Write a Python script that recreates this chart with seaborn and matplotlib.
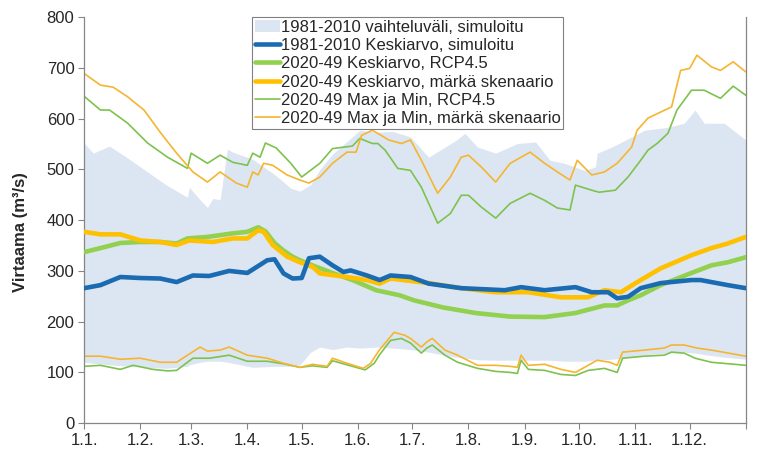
import seaborn as sns
import matplotlib.pyplot as plt
from matplotlib.patches import Patch
from matplotlib.lines import Line2D

# Day of year (0 = 1.1.) and flow values (m3/s)
band_days = [0, 5, 14, 25, 35, 45, 57, 58, 64, 68, 71, 75, 79, 82, 93, 105, 114, 119, 125, 130,
             137, 145, 152, 162, 170, 180, 190, 205, 210, 217, 227, 239, 249, 257, 265, 276, 282, 283, 291, 302,
             309, 322, 331, 337, 342, 353, 365]
band_hi = [552, 532, 546, 520, 495, 470, 445, 465, 440, 425, 443, 440, 540, 534, 520, 490, 463, 457, 470, 500,
           530, 555, 577, 573, 575, 564, 524, 557, 571, 544, 532, 551, 554, 518, 512, 498, 505, 532, 544, 564,
           577, 583, 591, 617, 591, 591, 558]
band_lo = [120, 118, 115, 112, 110, 108, 112, 115, 120, 122, 122, 122, 120, 118, 110, 112, 112, 115, 140, 150,
           145, 150, 148, 150, 148, 145, 140, 130, 128, 125, 124, 124, 124, 124, 122, 122, 124, 124, 126, 130,
           135, 138, 140, 138, 135, 130, 126]

hist_mean_days = [0, 9, 20, 31, 42, 51, 60, 69, 80, 90, 101, 105, 110, 115, 120, 124, 130, 137, 143, 147,
                  156, 163, 169, 180, 190, 208, 232, 241, 254, 271, 280, 289, 294, 300, 307, 318, 335, 340, 355, 365]
hist_mean = [266, 272, 288, 286, 285, 278, 291, 290, 300, 296, 321, 323, 295, 285, 286, 325, 328, 311, 298, 301,
             291, 282, 291, 288, 275, 266, 262, 268, 262, 268, 258, 258, 246, 249, 266, 276, 282, 282, 272, 266]

rcp_mean_days = [0, 9, 20, 31, 42, 51, 57, 68, 82, 90, 96, 100, 105, 110, 115, 119, 128, 137, 148, 161,
                 174, 182, 198, 216, 235, 254, 271, 287, 294, 300, 307, 318, 335, 346, 355, 365]
rcp_mean = [337, 345, 355, 357, 357, 354, 364, 367, 374, 377, 386, 378, 355, 340, 328, 321, 308, 296, 282, 262,
            252, 242, 228, 217, 210, 209, 217, 232, 232, 242, 252, 272, 296, 311, 317, 327]

wet_mean_days = [0, 9, 20, 31, 42, 51, 58, 71, 82, 90, 96, 99, 104, 112, 119, 126, 130, 145, 156, 163,
                 169, 190, 208, 227, 245, 263, 278, 287, 296, 307, 318, 335, 346, 355, 365]
wet_mean = [377, 372, 372, 360, 357, 351, 360, 357, 364, 364, 380, 377, 351, 328, 317, 308, 295, 288, 282, 275,
            285, 276, 266, 258, 258, 248, 248, 262, 258, 282, 305, 331, 345, 354, 367]

rcp_max_days = [0, 9, 14, 24, 35, 46, 57, 59, 68, 75, 82, 90, 93, 97, 100, 106, 114, 120, 130, 137,
                148, 152, 159, 162, 166, 173, 180, 186, 195, 202, 208, 212, 219, 227, 235, 246, 254, 261, 268, 271,
                280, 284, 293, 300, 307, 311, 316, 322, 327, 335, 342, 351, 358, 365]
rcp_max = [644, 617, 617, 591, 552, 524, 502, 532, 512, 528, 514, 508, 532, 524, 552, 542, 512, 485, 512, 541,
           546, 561, 551, 551, 538, 502, 498, 465, 394, 413, 449, 449, 426, 404, 433, 453, 439, 424, 420, 469,
           459, 455, 459, 485, 518, 538, 551, 571, 617, 656, 656, 640, 664, 646]

wet_max_days = [0, 9, 16, 24, 33, 42, 51, 60, 68, 75, 84, 90, 93, 96, 99, 104, 112, 119, 124, 130,
                137, 145, 150, 153, 159, 162, 168, 175, 180, 186, 195, 202, 208, 212, 219, 227, 235, 246, 254, 261,
                268, 272, 280, 287, 294, 302, 305, 311, 318, 324, 329, 334, 338, 346, 351, 358, 365]
wet_max = [689, 666, 662, 643, 617, 573, 532, 495, 475, 495, 473, 465, 495, 489, 512, 508, 489, 479, 473, 485,
           512, 534, 534, 567, 577, 571, 558, 551, 558, 518, 453, 485, 524, 528, 505, 475, 512, 534, 512, 495,
           479, 518, 489, 495, 512, 544, 577, 601, 613, 623, 695, 699, 725, 702, 695, 712, 692]

rcp_min_days = [0, 9, 20, 27, 38, 46, 51, 60, 69, 80, 90, 101, 110, 119, 126, 134, 137, 145, 155, 160,
                163, 169, 175, 180, 186, 189, 192, 199, 206, 217, 227, 235, 239, 241, 245, 254, 263, 271, 278, 287,
                294, 297, 309, 320, 324, 331, 337, 346, 365]
rcp_min = [112, 114, 106, 114, 106, 103, 104, 128, 128, 134, 122, 122, 117, 110, 113, 110, 123, 115, 105, 118,
           135, 163, 167, 158, 138, 148, 154, 134, 120, 108, 102, 100, 98, 124, 106, 104, 96, 94, 104, 108,
           100, 128, 132, 134, 140, 138, 128, 120, 114]

wet_min_days = [0, 9, 20, 31, 42, 51, 57, 64, 68, 75, 80, 90, 101, 110, 119, 126, 134, 137, 145, 154,
                158, 163, 171, 177, 180, 186, 189, 192, 199, 206, 217, 227, 235, 239, 241, 245, 254, 263, 271, 278,
                283, 290, 294, 297, 309, 320, 324, 331, 338, 346, 365]
wet_min = [132, 132, 126, 128, 120, 120, 134, 150, 142, 144, 150, 134, 128, 118, 110, 116, 112, 128, 118, 108,
           118, 145, 179, 173, 167, 150, 160, 167, 144, 134, 114, 114, 112, 110, 134, 114, 116, 106, 100, 114,
           124, 120, 114, 140, 144, 148, 154, 154, 148, 144, 132]

month_ticks = [0, 31, 59, 90, 120, 151, 181, 212, 243, 273, 304, 334, 365]
month_labels = ["1.1.", "1.2.", "1.3.", "1.4.", "1.5.", "1.6.", "1.7.", "1.8.", "1.9.", "1.10.",
                "1.11.", "1.12.", ""]

labels = ["1981-2010 vaihteluväli, simuloitu",
          "1981-2010 Keskiarvo, simuloitu",
          "2020-49 Keskiarvo, RCP4.5",
          "2020-49 Keskiarvo, märkä skenaario",
          "2020-49 Max ja Min, RCP4.5",
          "2020-49 Max ja Min, märkä skenaario"]

c_band = "#DCE6F2"
c_blue = "#1A6BB2"
c_green = "#92D050"
c_orange = "#FFC000"
c_green_thin = "#7EC24E"
c_orange_thin = "#F5B531"

sns.set_style("white")
plt.rcParams['font.family'] = ['Liberation Sans', 'DejaVu Sans']

fig, ax = plt.subplots(figsize=(7.58, 4.63), dpi=100)
fig.subplots_adjust(left=0.111, right=0.984, bottom=0.086, top=0.963)

ax.fill_between(band_days, band_lo, band_hi, color=c_band, lw=0, zorder=1)

# thin max/min lines
sns.lineplot(x=rcp_max_days, y=rcp_max, ax=ax, color=c_green_thin, lw=1.2, zorder=2)
sns.lineplot(x=rcp_min_days, y=rcp_min, ax=ax, color=c_green_thin, lw=1.2, zorder=2)
sns.lineplot(x=wet_max_days, y=wet_max, ax=ax, color=c_orange_thin, lw=1.2, zorder=2)
sns.lineplot(x=wet_min_days, y=wet_min, ax=ax, color=c_orange_thin, lw=1.2, zorder=2)

# thick mean lines
sns.lineplot(x=rcp_mean_days, y=rcp_mean, ax=ax, color=c_green, lw=3.3, zorder=3)
sns.lineplot(x=wet_mean_days, y=wet_mean, ax=ax, color=c_orange, lw=3.3, zorder=3)
sns.lineplot(x=hist_mean_days, y=hist_mean, ax=ax, color=c_blue, lw=3.3, zorder=4)

ax.set_xlim(0, 365)
ax.set_ylim(0, 800)
ax.set_yticks(range(0, 801, 100))
ax.set_xticks(month_ticks)
ax.set_xticklabels(month_labels, fontsize=12)
ax.tick_params(axis='y', labelsize=12)
ax.tick_params(direction='out', length=4, width=0.8, color='#868686',
               left=True, bottom=True, pad=3)
ax.set_xlabel("")
ax.set_ylabel("Virtaama (m³/s)", fontsize=12, fontweight='bold')
ax.yaxis.set_label_coords(-0.085, 0.47)

for side in ['left', 'bottom', 'right']:
    ax.spines[side].set_color('#868686')
    ax.spines[side].set_linewidth(0.9)
ax.spines['top'].set_visible(False)

handles = [Patch(facecolor=c_band, edgecolor='none'),
           Line2D([], [], color=c_blue, lw=3.3),
           Line2D([], [], color=c_green, lw=3.3),
           Line2D([], [], color=c_orange, lw=3.3),
           Line2D([], [], color=c_green_thin, lw=1.2),
           Line2D([], [], color=c_orange_thin, lw=1.2)]
leg = ax.legend(handles, labels, loc='upper left', bbox_to_anchor=(0.254, 1.0),
                fontsize=12, frameon=True, fancybox=False, edgecolor='#808080',
                framealpha=1, labelspacing=0.2, handlelength=1.5, handleheight=0.7,
                handletextpad=0.05, borderpad=0.15, borderaxespad=0)
leg.get_frame().set_linewidth(0.8)

plt.savefig("out.png", dpi=100)
